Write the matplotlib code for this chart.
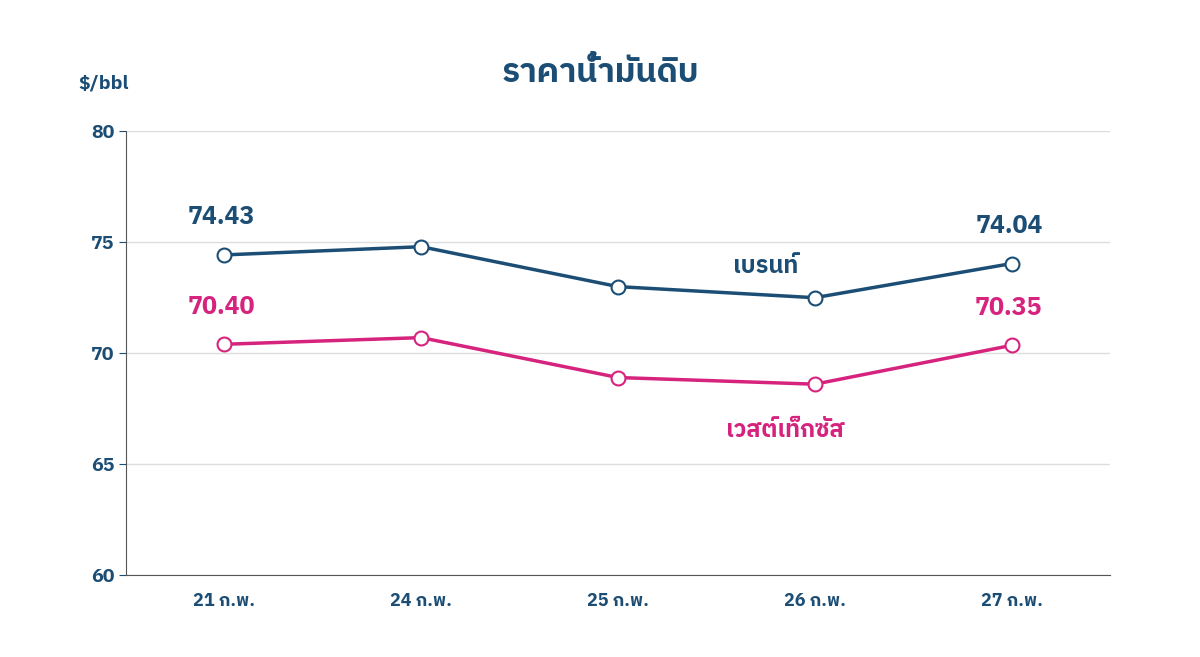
import matplotlib
matplotlib.use("Agg")
import matplotlib.pyplot as plt
from matplotlib import font_manager as fm

fams = sorted({f.name for f in fm.fontManager.ttflist})
thai = [f for f in fams if 'Thai' in f or 'Loma' in f or 'Garuda' in f or 'Sarabun' in f]
plt.rcParams['font.family'] = thai + ['DejaVu Sans'] if thai else ['DejaVu Sans']

dates = ["21 ก.พ.", "24 ก.พ.", "25 ก.พ.", "26 ก.พ.", "27 ก.พ."]
brent = [74.43, 74.80, 73.00, 72.50, 74.04]
wti = [70.40, 70.70, 68.90, 68.60, 70.35]

navy = "#1c4e75"
pink = "#d6247e"
fig = plt.figure(figsize=(12, 6.57), dpi=100)
ax = fig.add_axes([0.105, 0.125, 0.82, 0.675])
x = range(len(dates))
ax.plot(x, brent, color=navy, lw=2.5, marker='o', ms=10, mfc='white', mec=navy, mew=1.5)
ax.plot(x, wti, color=pink, lw=2.5, marker='o', ms=10, mfc='white', mec=pink, mew=1.5)
ax.set_ylim(60, 80)
ax.set_xlim(-0.5, 4.5)
ax.set_yticks([60, 65, 70, 75, 80])
ax.set_xticks(list(x))
ax.set_xticklabels(dates)
ax.grid(axis='y', color='#dddddd', lw=1)
for s in ['top', 'right']:
    ax.spines[s].set_visible(False)
ax.spines['left'].set_color('#555555')
ax.spines['bottom'].set_color('#555555')
ax.tick_params(axis='y', colors=navy, labelsize=14, length=5)
ax.tick_params(axis='x', colors=navy, labelsize=13, length=0, pad=12)
for t in ax.get_yticklabels() + ax.get_xticklabels():
    t.set_fontweight('bold')
for i in [0, 4]:
    ax.annotate(f"{brent[i]:.2f}", (i, brent[i]), xytext=(-2, 22), textcoords='offset points',
                ha='center', color=navy, fontsize=18, fontweight='bold')
    ax.annotate(f"{wti[i]:.2f}", (i, wti[i]), xytext=(-2, 22), textcoords='offset points',
                ha='center', color=pink, fontsize=18, fontweight='bold')
ax.text(2.75, 73.6, "เบรนท์", color=navy, fontsize=17, fontweight='bold', ha='center')
ax.text(2.85, 66.2, "เวสต์เท็กซัส", color=pink, fontsize=17, fontweight='bold', ha='center')
fig.text(0.5, 0.875, "ราคาน้ำมันดิบ", color=navy, fontsize=24, fontweight='bold', ha='center')
fig.text(0.065, 0.865, "$/bbl", color=navy, fontsize=14, fontweight='bold')
fig.savefig("out.png", facecolor='white')
